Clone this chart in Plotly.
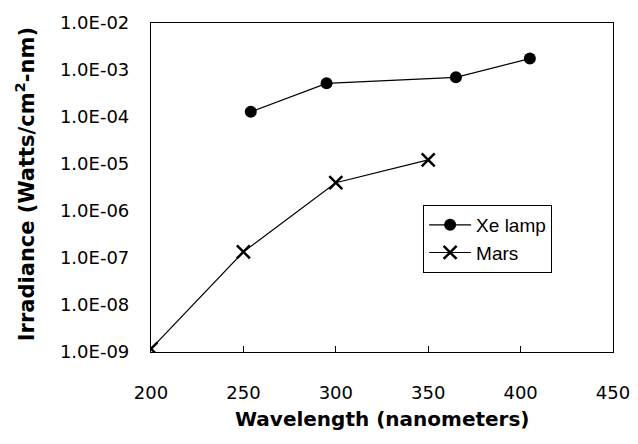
import plotly.graph_objects as go

xe_wavelength = [254, 295, 365, 405]
xe_irradiance = [1.29e-4, 5.2e-4, 7.0e-4, 1.75e-3]

mars_wavelength = [200, 250, 300, 350]
mars_irradiance = [1.17e-9, 1.35e-7, 4.0e-6, 1.22e-5]

y_tickvals = [1e-9, 1e-8, 1e-7, 1e-6, 1e-5, 1e-4, 1e-3, 1e-2]
y_ticktext = ["1.0E-09", "1.0E-08", "1.0E-07", "1.0E-06", "1.0E-05", "1.0E-04", "1.0E-03", "1.0E-02"]
x_tickvals = [200, 250, 300, 350, 400, 450]

# minor tick positions (styling only)
y_minor = [m * 10.0 ** e for e in range(-9, -2) for m in range(2, 10)]
x_minor = [v for v in range(210, 450, 10) if v % 50]

tick_font = "DejaVu Sans, sans-serif"
title_font = "DejaVu Sans, sans-serif"
legend_font = "Liberation Sans, Arial, sans-serif"

fig = go.Figure()
fig.add_trace(go.Scatter(
    x=xe_wavelength, y=xe_irradiance, name="Xe lamp", mode="lines+markers",
    legendgroup="a",
    line=dict(color="black", width=1.2),
    marker=dict(symbol="circle", size=12, color="black"),
))
fig.add_trace(go.Scatter(
    x=mars_wavelength, y=mars_irradiance, name="Mars", mode="lines+markers",
    legendgroup="b",
    line=dict(color="black", width=1.2),
    marker=dict(symbol="x-thin", size=13, color="black", line=dict(color="black", width=2.5)),
))

fig.update_layout(
    width=638, height=444,
    margin=dict(l=143, r=33, t=15, b=100),
    paper_bgcolor="white", plot_bgcolor="white",
    font=dict(family=tick_font, size=18, color="black"),
    showlegend=True,
    legend=dict(
        x=0.589, y=0.447, xanchor="left", yanchor="top",
        bordercolor="black", borderwidth=1, bgcolor="white",
        font=dict(family=legend_font, size=19, color="black"),
        tracegroupgap=0, itemwidth=42,
    ),
    xaxis=dict(
        range=[200, 450], tickvals=x_tickvals, ticks="inside", ticklen=6, tickwidth=1.3,
        tickcolor="black", showline=True, linecolor="black", linewidth=1.2, mirror=True,
        showgrid=False, zeroline=False, automargin=False, ticklabelstandoff=24,
        tickfont=dict(family=tick_font, size=18, color="black"),
    ),
    xaxis2=dict(
        overlaying="x", anchor="y", range=[200, 450], tickvals=x_minor, ticks="inside",
        ticklen=4, tickwidth=1.3,
        tickcolor="black", showticklabels=False, showline=False, showgrid=False,
        zeroline=False, automargin=False,
    ),
    yaxis=dict(
        type="log", range=[-9, -2], tickvals=y_tickvals, ticktext=y_ticktext,
        ticks="outside", ticklen=17, tickcolor="rgba(0,0,0,0)",
        showline=True, linecolor="black", linewidth=1.2, mirror=True,
        showgrid=False, zeroline=False, automargin=False,
        tickfont=dict(family=tick_font, size=18, color="black"),
    ),
    yaxis2=dict(
        type="log", overlaying="y", anchor="x", range=[-9, -2], tickvals=y_minor,
        ticks="inside", ticklen=4, tickwidth=1.3, tickcolor="black", showticklabels=False,
        showline=False, showgrid=False, zeroline=False, automargin=False, side="left",
    ),
    yaxis3=dict(
        type="log", overlaying="y", anchor="x", range=[-9, -2], tickvals=y_tickvals,
        ticks="inside", ticklen=7, tickwidth=1.3, tickcolor="black", showticklabels=False,
        showline=False, showgrid=False, zeroline=False, automargin=False, side="left",
    ),
    annotations=[
        dict(text="<b>Wavelength (nanometers)</b>", xref="paper", yref="paper",
             x=0.50, y=-0.204, xanchor="center", yanchor="middle", showarrow=False,
             font=dict(family=title_font, size=20, color="black")),
        dict(text="<b>Irradiance (Watts/cm<sup>2</sup>-nm)</b>", xref="paper", yref="paper",
             x=-0.272, y=0.511, xanchor="center", yanchor="middle", showarrow=False, textangle=-90,
             font=dict(family=title_font, size=21, color="black")),
    ],
)

fig.write_html("out.html")
